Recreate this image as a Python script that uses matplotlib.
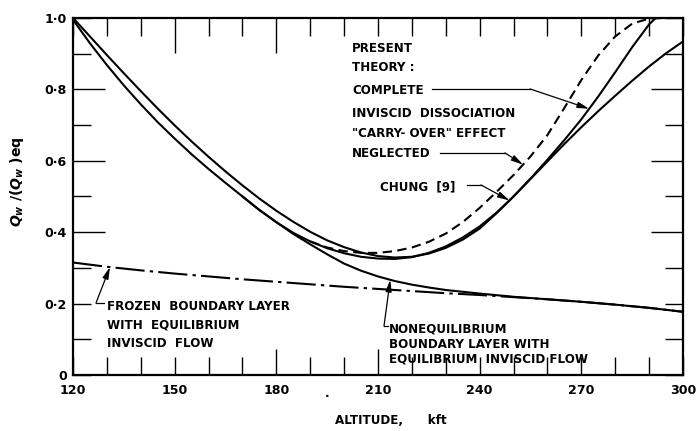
import numpy as np
import matplotlib
matplotlib.use("Agg")
import matplotlib.pyplot as plt
from matplotlib import font_manager as fm

# ---------------- data ----------------
alt_complete = [120, 125, 130, 135, 140, 145, 150, 155, 160, 165, 170, 175, 180, 185, 190,
                195, 200, 205, 210, 215, 220, 225, 230, 235, 240, 245, 250, 255, 260, 265,
                270, 275, 280, 285, 290, 292, 300]
q_complete = [0.995, 0.929, 0.868, 0.811, 0.758, 0.708, 0.662, 0.618, 0.577, 0.538, 0.500,
              0.462, 0.428, 0.398, 0.374, 0.355, 0.341, 0.331, 0.326, 0.325, 0.330, 0.342,
              0.360, 0.385, 0.416, 0.455, 0.500, 0.550, 0.603, 0.658, 0.716, 0.780, 0.848,
              0.918, 0.982, 1.000, 1.000]

alt_chung = [120, 125, 130, 135, 140, 145, 150, 155, 160, 165, 170, 175, 180, 185, 190, 195,
             200, 205, 210, 215, 220, 225, 230, 235, 240, 245, 250, 255, 260, 265, 270, 275,
             280, 285, 290, 295, 300]
q_chung = [1.000, 0.948, 0.896, 0.845, 0.795, 0.746, 0.699, 0.654, 0.611, 0.570, 0.531,
           0.494, 0.460, 0.429, 0.401, 0.377, 0.358, 0.343, 0.333, 0.329, 0.331, 0.340,
           0.356, 0.379, 0.410, 0.453, 0.500, 0.549, 0.598, 0.647, 0.694, 0.739, 0.782,
           0.824, 0.864, 0.901, 0.934]

alt_neglected = [190, 195, 200, 205, 210, 215, 220, 225, 230, 235, 240, 245, 250, 255, 260,
                 265, 270, 275, 280, 285, 290, 295, 300]
q_neglected = [0.374, 0.357, 0.347, 0.342, 0.342, 0.347, 0.357, 0.373, 0.396, 0.428, 0.468,
               0.513, 0.560, 0.612, 0.672, 0.748, 0.826, 0.895, 0.948, 0.984, 0.998, 1.000,
               1.000]

alt_noneq = [170, 175, 180, 185, 190, 195, 200, 205, 210, 215, 220, 225, 230, 235, 240, 250,
             260, 270, 280, 290, 300]
q_noneq = [0.500, 0.462, 0.428, 0.395, 0.366, 0.338, 0.312, 0.292, 0.276, 0.263, 0.253,
           0.245, 0.238, 0.233, 0.228, 0.219, 0.212, 0.205, 0.197, 0.188, 0.177]

alt_frozen = [120, 130, 140, 150, 160, 170, 180, 190, 200, 210, 220, 230, 240, 250, 260, 270,
              280, 290, 300]
q_frozen = [0.315, 0.303, 0.293, 0.284, 0.276, 0.268, 0.261, 0.254, 0.247, 0.241, 0.235,
            0.229, 0.224, 0.218, 0.212, 0.205, 0.197, 0.188, 0.177]

x_ticks = [120, 150, 180, 210, 240, 270, 300]
x_tick_labels = ["120", "150", "180", "210", "240", "270", "300"]
y_ticks = [0.0, 0.2, 0.4, 0.6, 0.8, 1.0]
y_tick_labels = ["0", "0\u00b72", "0\u00b74", "0\u00b76", "0\u00b78", "1\u00b70"]

# ---------------- fonts ----------------
names = {f.name for f in fm.fontManager.ttflist}
if "Liberation Sans Narrow" in names:
    fam = ["Liberation Sans Narrow", "DejaVu Sans"]
    fs = 11.0
else:
    fam = ["DejaVu Sans"]
    fs = 8.6
plt.rcParams["font.family"] = fam
plt.rcParams["font.weight"] = "bold"
plt.rcParams["mathtext.fontset"] = "dejavusans"

W, H = 697, 431
fig = plt.figure(figsize=(W / 100, H / 100 + 0.001), dpi=100)
L, R, T, B = 73, 683, 18, 375
ax = fig.add_axes([L / W, (H - B) / H, (R - L) / W, (B - T) / H])
ax.set_xlim(120, 300)
ax.set_ylim(0, 1.0)

lw = 1.5
ax.plot(alt_complete, q_complete, color="k", lw=lw, solid_joinstyle="round")
ax.plot(alt_chung, q_chung, color="k", lw=lw, solid_joinstyle="round")
ax.plot(alt_noneq, q_noneq, color="k", lw=lw, solid_joinstyle="round")
ax.plot(alt_neglected, q_neglected, color="k", lw=lw, linestyle=(0, (4.5, 2.6)))
ax.plot(alt_frozen, q_frozen, color="k", lw=lw, linestyle=(0, (14, 2.5, 1.6, 2.5)))

# ---------------- spines & ticks ----------------
for s in ax.spines.values():
    s.set_linewidth(1.6)
ax.set_xticks(x_ticks)
ax.set_xticklabels(x_tick_labels)
ax.set_xticks([v for v in range(130, 300, 10) if v % 30], minor=True)
ax.set_yticks(y_ticks)
ax.set_yticklabels(y_tick_labels)
ax.set_yticks([0.1, 0.3, 0.5, 0.7, 0.9], minor=True)
ax.tick_params(which="both", direction="in", top=True, right=True, width=1.0,
               labelsize=fs + 0.5, color="k")
ax.tick_params(axis="x", which="major", pad=6.5)
ax.tick_params(axis="y", which="major", pad=4.5)
short, long_ = 13, 23
ax.tick_params(which="both", length=short)
for v, t in zip(x_ticks, ax.xaxis.get_major_ticks()):
    t.tick1line.set_markersize(long_ - 4 if v in (180, 210) else short)
    t.tick2line.set_markersize(long_ + 2 if v in (150, 180) else short)
for v, t in zip(y_ticks, ax.yaxis.get_major_ticks()):
    ln = long_ if v in (0.4, 0.6, 0.8) else short
    t.tick1line.set_markersize(ln)
    t.tick2line.set_markersize(ln)

# stray dot under the axis (present in the reference)
ax.text(195, -0.06, "\u00b7", ha="center", va="center", fontsize=fs)

# ---------------- labels ----------------
fig.text(391 / W, 1 - 420 / H, "ALTITUDE,      kft", ha="center", va="center", fontsize=fs)
fig.text(17 / W, 1 - 182 / H, r"$Q_w\ /(Q_w\ )$eq", rotation=90, ha="center",
         va="center", fontsize=fs + 1.5)

# ---------------- annotations ----------------
def px2d(px, py):
    return 120 + (px - L) * 180 / (R - L), (B - py) / (B - T)

def leader(text_end_px, bend_px, tip_x, xs, ys):
    x0, y0 = px2d(*text_end_px)
    x1, y1 = px2d(*bend_px)
    tip_y = float(np.interp(tip_x, xs, ys))
    ax.plot([x0, x1], [y0, y1], color="k", lw=0.9)
    ax.annotate("", xy=(tip_x, tip_y), xytext=(x1, y1),
                arrowprops=dict(arrowstyle="-|>,head_length=0.7,head_width=0.18",
                                lw=0.9, color="k", shrinkA=0, shrinkB=0,
                                mutation_scale=10))

tx = px2d(352, 0)[0]
for txt, py in [("PRESENT", 48), ("THEORY :", 67), ("COMPLETE", 90),
                ("INVISCID  DISSOCIATION", 113), ("\"CARRY- OVER\" EFFECT", 133),
                ("NEGLECTED", 153)]:
    ax.text(tx, px2d(0, py)[1], txt, ha="left", va="center", fontsize=fs)
ax.text(px2d(380, 0)[0], px2d(0, 187)[1], "CHUNG  [9]", ha="left", va="center", fontsize=fs)

leader((432, 89), (530, 89), 272.3, alt_complete, q_complete)
leader((440, 153), (505, 153), 252.8, alt_neglected, q_neglected)
leader((467, 185), (481, 185), 248.8, alt_chung, q_chung)

fx = px2d(107, 0)[0]
for txt, py in [("FROZEN  BOUNDARY LAYER", 306), ("WITH  EQUILIBRIUM", 325),
                ("INVISCID  FLOW", 343)]:
    ax.text(fx, px2d(0, py)[1], txt, ha="left", va="center", fontsize=fs)
leader((104, 303), (96, 303), 130.9, alt_frozen, q_frozen)

nx = px2d(389, 0)[0]
for txt, py in [("NONEQUILIBRIUM", 329), ("BOUNDARY LAYER WITH", 344),
                ("EQUILIBRIUM  INVISCID FLOW", 359)]:
    ax.text(nx, px2d(0, py)[1], txt, ha="left", va="center", fontsize=fs)
leader((388, 326), (384, 326), 213.6, alt_noneq, q_noneq)

fig.savefig("out.png", dpi=100)
